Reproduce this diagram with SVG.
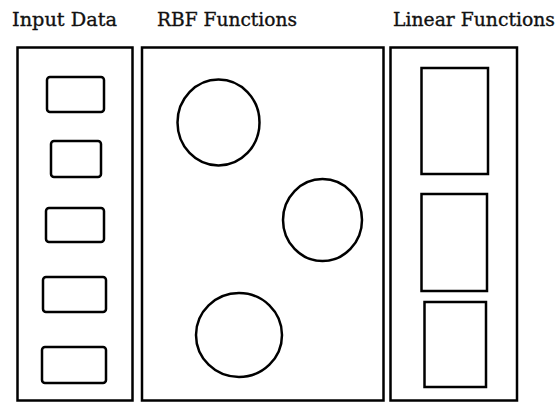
<svg xmlns="http://www.w3.org/2000/svg" width="560" height="402" viewBox="0 0 560 402">
  <style>
    .panel { fill: none; stroke: #000; stroke-width: 2.5; }
    .item { fill: none; stroke: #000; stroke-width: 2.5; }
    .title { font-family: "DejaVu Serif", "Liberation Serif", serif; font-size: 19px; fill: #111; stroke: #111; stroke-width: 0.35; }
  </style>
  <rect width="560" height="402" fill="#fff"/>

  <!-- Column titles -->
  <g id="titles">
    <text class="title" x="12" y="26" textLength="105" lengthAdjust="spacingAndGlyphs">Input Data</text>
    <text class="title" x="157" y="26" textLength="140" lengthAdjust="spacingAndGlyphs">RBF Functions</text>
    <text class="title" x="393" y="26" textLength="162" lengthAdjust="spacingAndGlyphs">Linear Functions</text>
  </g>

  <!-- Input data column -->
  <g id="input-data">
    <rect class="panel" x="17.5" y="47.5" width="115" height="353"/>
    <rect class="item" x="47" y="77" width="57" height="35" rx="3"/>
    <rect class="item" x="51" y="141" width="50" height="36" rx="3"/>
    <rect class="item" x="46" y="208" width="58" height="34" rx="3"/>
    <rect class="item" x="43" y="277" width="63" height="35" rx="3"/>
    <rect class="item" x="42" y="347" width="64" height="36" rx="3"/>
  </g>

  <!-- RBF functions column -->
  <g id="rbf-functions">
    <rect class="panel" x="142" y="47.5" width="241.5" height="353"/>
    <ellipse class="item" cx="218.5" cy="122.5" rx="41" ry="43"/>
    <ellipse class="item" cx="322.5" cy="220" rx="39.5" ry="41"/>
    <ellipse class="item" cx="239" cy="335" rx="43" ry="42"/>
  </g>

  <!-- Linear functions column -->
  <g id="linear-functions">
    <rect class="panel" x="390.5" y="47.5" width="126.5" height="353"/>
    <rect class="item" x="421.5" y="68" width="66.5" height="106"/>
    <rect class="item" x="421.5" y="194" width="65.5" height="97"/>
    <rect class="item" x="424.5" y="302" width="61.5" height="85"/>
  </g>

  <!-- No connectors are drawn -->
  <g id="connectors"/>
</svg>
